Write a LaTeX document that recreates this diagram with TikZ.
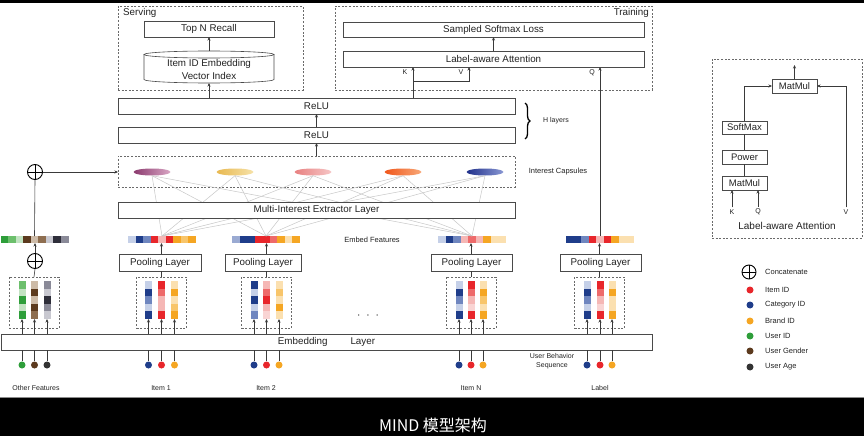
\documentclass[tikz,border=0pt]{standalone}
\usepackage{fontspec}
\setmainfont{Liberation Sans}
\setsansfont{Liberation Sans}
\newfontfamily\cjkfont{Noto Sans CJK SC}
\usetikzlibrary{shapes.geometric,arrows.meta,decorations.pathreplacing,calc}
\newcommand{\myfs}[1]{\fontsize{#1}{#1}\selectfont}
\definecolor{lc}{HTML}{4A4A4A}
\definecolor{ac}{HTML}{3A3A3A}
\definecolor{dc}{HTML}{6A6A6A}
\definecolor{txt}{HTML}{222222}
\definecolor{fanc}{HTML}{C8C8C8}
\definecolor{navy}{HTML}{1F3D8A}
\definecolor{midblue}{HTML}{6F86BF}
\definecolor{lightblue}{HTML}{C5D0E8}
\definecolor{ired}{HTML}{E8262B}
\definecolor{midred}{HTML}{EE6A6A}
\definecolor{pink}{HTML}{F5B7B5}
\definecolor{iorange}{HTML}{F5A623}
\definecolor{midorange}{HTML}{F8C56A}
\definecolor{lightorange}{HTML}{FBE0B0}
\definecolor{igreen}{HTML}{2E9E3A}
\definecolor{midgreen}{HTML}{6CBF6C}
\definecolor{lightgreen}{HTML}{C2E3C2}
\definecolor{ibrown}{HTML}{5C3A1E}
\definecolor{midbrown}{HTML}{8E6E50}
\definecolor{tan}{HTML}{CDBBA8}
\definecolor{dark}{HTML}{2E2E3A}
\definecolor{igray}{HTML}{8A8A98}
\definecolor{lightgray}{HTML}{C8C8D0}
\definecolor{darkdot}{HTML}{333333}
\definecolor{cap1a}{HTML}{8B3A6E}\definecolor{cap1b}{HTML}{D9A6C4}
\definecolor{cap2a}{HTML}{E8B850}\definecolor{cap2b}{HTML}{F6E2A8}
\definecolor{cap3a}{HTML}{E88080}\definecolor{cap3b}{HTML}{F6C6C6}
\definecolor{cap4a}{HTML}{F0561A}\definecolor{cap4b}{HTML}{F8A878}
\definecolor{cap5a}{HTML}{1F2F8A}\definecolor{cap5b}{HTML}{8A98D4}
\tikzset{
  box/.style={draw=lc, line width=0.6pt, fill=white, inner sep=0pt, outer sep=0pt, font=\myfs{9.8}, text=txt},
  dbox/.style={draw=dc, dash pattern=on 2pt off 1.6pt, line width=0.6pt, inner sep=0pt, outer sep=0pt},
  arr/.style={draw=ac, line width=0.6pt, -{Stealth[length=3.5pt,width=3pt]}},
  ln/.style={draw=ac, line width=0.6pt},
  fan/.style={draw=fanc, line width=0.5pt},
  lbl/.style={font=\myfs{7.5}, text=txt, inner sep=0pt},
  dot/.style={circle, minimum size=7pt, inner sep=0pt, draw=none},
  capsule/.style={ellipse, minimum width=37pt, minimum height=7pt, inner sep=0pt, draw=none},
  cplus/.style={circle, draw=black, line width=0.9pt, minimum size=15pt, inner sep=0pt,
    path picture={\draw[line width=0.9pt] (path picture bounding box.north) -- (path picture bounding box.south)
      (path picture bounding box.west) -- (path picture bounding box.east);}},
}
\newcommand{\mkbar}[3]{%
  \node[inner sep=0pt, outer sep=0pt, minimum width=68pt, minimum height=7pt] (#1) at (#2,239.5) {};
  \foreach \c [count=\i from 0] in {#3}
    \fill[\c] ($(#1.north west)+(\i*7.5556,0)$) rectangle +(7.5556,7);
}
\newcommand{\mkcolumn}[4]{%
  \node[inner sep=0pt, outer sep=0pt, minimum width=7pt, minimum height=38pt] (#1) at (#2,300) {};
  \foreach \c [count=\i from 0] in {#3}
    \fill[\c] ($(#1.north west)+(0,\i*7.6)$) rectangle +(7,7.6);
  \draw[arr] (#1.south |- emb.north) -- (#1.south);
  \node[dot, fill=#4] (#1d) at (#2,365) {};
  \draw[ln] (#1d) -- (#1d |- emb.south);
}
\begin{document}
\begin{tikzpicture}[x=1pt,y=-1pt]
\useasboundingbox (0,0) rectangle (864,436);
\fill[white] (0,0) rectangle (864,436);
\fill[black] (0,0) rectangle (864,3);
\fill[black] (0,397) rectangle (864,436);
\draw[black!45, line width=0.6pt] (0,397.3) -- (864,397.3);
\node[font=\cjkfont\myfs{16}, text=white, inner sep=0pt] (caption) at (433,425) {MIND 模型架构};

% ---------------- Serving ----------------
\node[dbox, minimum width=185pt, minimum height=84pt] (serve) at (210.5,48) {};
\node[lbl, font=\myfs{9.8}, anchor=west] (servel) at (123,13) {Serving};
\node[box, minimum width=130pt, minimum height=16pt] (topn) at (209,29) {Top N Recall};
\fill[white] (144,54.5) -- (144,79.5) arc[start angle=180, end angle=360, x radius=65pt, y radius=3.5pt] -- (274,54.5) -- cycle;
\draw[lc, line width=0.6pt] (144,54.5) -- (144,79.5) arc[start angle=180, end angle=360, x radius=65pt, y radius=3.5pt] -- (274,54.5);
\draw[lc, line width=0.6pt, fill=white] (209,54.5) ellipse[x radius=65pt, y radius=3.5pt];
\node[inner sep=0pt, outer sep=0pt, minimum width=130pt, minimum height=32pt] (cyl) at (209,67) {};
\node[font=\myfs{9.8}, text=txt, align=center, inner sep=0pt] (cyltext) at (209,69.5) {Item ID Embedding\\[3pt]Vector Index};
\draw[arr] (cyl.north) -- (topn.south);

% ---------------- Training ----------------
\node[dbox, minimum width=317pt, minimum height=84pt] (train) at (493.5,48) {};
\node[lbl, font=\myfs{9.8}, anchor=east] (trainl) at (649,13) {Training};
\node[box, minimum width=301pt, minimum height=15pt] (ssl) at (493.5,29.5) {Sampled Softmax Loss};
\node[box, minimum width=301pt, minimum height=16pt] (laa) at (493.5,59) {Label-aware Attention};
\draw[arr] (laa.north) -- (ssl.south);
\node[lbl, font=\myfs{7}] (kl) at (405,72.5) {K};
\node[lbl, font=\myfs{7}] (vl) at (461,72.5) {V};
\node[lbl, font=\myfs{7}] (ql) at (592,72.5) {Q};

% ---------------- ReLU stack ----------------
\node[box, minimum width=397pt, minimum height=16pt] (relu1) at (316.5,106) {ReLU};
\node[box, minimum width=397pt, minimum height=16pt] (relu2) at (316.5,135) {ReLU};
\draw[arr] (relu2.north) -- (relu1.south);
\draw[arr] (cyl.south |- relu1.north) -- (cyl.south);
\coordinate (kbase) at (413,98);
\coordinate (kv) at (413,81);
\coordinate (vtop) at (469,67);
\draw[arr] (kbase) -- (kbase |- laa.south);
\draw[arr] (kv) -| (vtop);
\coordinate (bracetop) at (525,103);
\coordinate (bracebot) at (525,139);
\draw[decorate, decoration={brace, amplitude=5pt}, line width=1.3pt] (bracetop) -- (bracebot);
\node[lbl, font=\myfs{7}] (hl) at (556,121) {H layers};

% ---------------- Capsules ----------------
\node[dbox, minimum width=397pt, minimum height=31pt] (capbox) at (316.5,171.5) {};
\draw[arr] (capbox.north) -- (relu2.south);
\node[lbl] (icl) at (558,172) {Interest Capsules};
\node[capsule, left color=cap1a, right color=cap1b] (c1) at (152,172) {};
\node[capsule, left color=cap2a, right color=cap2b] (c2) at (235,172) {};
\node[capsule, left color=cap3a, right color=cap3b] (c3) at (313,172) {};
\node[capsule, left color=cap4a, right color=cap4b] (c4) at (403,172) {};
\node[capsule, left color=cap5a, right color=cap5b] (c5) at (485,172) {};

% ---------------- Embed feature bars ----------------
\mkbar{bar0}{34.5}{igreen,midgreen,lightgreen,ibrown,tan,midbrown,lightgray,dark,igray}
\mkbar{bar1}{162}{lightblue,navy,midblue,ired,pink,ired,iorange,midorange,iorange}
\mkbar{bar2}{266}{midblue!70,navy,navy,ired,ired,midred,iorange,lightorange,iorange}
\mkbar{bar3}{472}{lightblue,navy,midblue,pink,midred,pink,iorange,lightorange,lightorange}
\mkbar{bar4}{600}{navy,navy,midblue,ired,pink,ired,iorange,lightorange,lightorange}
\node[lbl] (efl) at (372,240) {Embed Features};

\foreach \b in {bar1,bar2,bar3}
  \foreach \c in {c1,c2,c3,c4,c5}
    \draw[fan] (\b.north) -- (\c.south);

\node[box, minimum width=397pt, minimum height=16pt] (mie) at (316.5,210) {Multi-Interest Extractor Layer};

% Q connector
\draw[arr] (bar4.north) -- (bar4.north |- laa.south);

% ---------------- Other features concat ----------------
\node[cplus] (cp1) at (35,172) {};
\draw[ln] (bar0.north) -- (cp1.south);
\draw[arr] (cp1.east) -- (cp1.east -| capbox.west);
\node[cplus] (cp2) at (35,261) {};
\draw[arr] (cp2.north) -- (cp2.north |- bar0.south);

% ---------------- Pooling ----------------
\node[box, minimum width=82pt, minimum height=17pt] (pool1) at (160,262.5) {Pooling Layer};
\node[box, minimum width=76pt, minimum height=17pt] (pool2) at (263,262.5) {Pooling Layer};
\node[box, minimum width=81pt, minimum height=17pt] (pool3) at (471.5,262.5) {Pooling Layer};
\node[box, minimum width=81pt, minimum height=17pt] (pool4) at (600.5,262.5) {Pooling Layer};

% ---------------- Groups ----------------
\node[dbox, minimum width=50pt, minimum height=51pt] (g0) at (34,302.5) {};
\node[dbox, minimum width=50pt, minimum height=51pt] (g1) at (161.5,302.5) {};
\node[dbox, minimum width=50pt, minimum height=51pt] (g2) at (266.5,302.5) {};
\node[dbox, minimum width=50pt, minimum height=51pt] (g3) at (471,302.5) {};
\node[dbox, minimum width=50pt, minimum height=51pt] (g4) at (599.5,302.5) {};
\draw[ln] (g0.north) -- (cp2.south);
\foreach \g/\p/\b in {g1/pool1/bar1,g2/pool2/bar2,g3/pool3/bar3,g4/pool4/bar4}{
  \draw[ln] (\g.north) -- (\g.north |- \p.south);
  \draw[arr] (\g.north |- \p.north) -- (\g.north |- \b.south);
}

% ---------------- Embedding layer ----------------
\node[box, minimum width=651pt, minimum height=16pt] (emb) at (326.5,342) {Embedding\hspace{23pt}Layer};

\mkcolumn{g0a}{22}{midgreen,lightgreen,igreen,lightgreen,igreen}{igreen}
\mkcolumn{g0b}{34.5}{tan,ibrown,tan,ibrown,midbrown}{ibrown}
\mkcolumn{g0c}{47}{igray,lightgray,dark,igray,lightgray}{darkdot}
\mkcolumn{g1a}{148.5}{lightblue,navy,midblue,lightblue,navy}{navy}
\mkcolumn{g1b}{161.5}{ired,midred,pink,pink,ired}{ired}
\mkcolumn{g1c}{174.5}{lightorange,iorange,lightorange,midorange,iorange}{iorange}
\mkcolumn{g2a}{254}{navy,lightblue,navy,lightblue,midblue}{navy}
\mkcolumn{g2b}{266.5}{pink,midred,ired,pink,pink!60}{ired}
\mkcolumn{g2c}{279}{lightorange,midorange,lightorange,iorange,lightorange}{iorange}
\mkcolumn{g3a}{459}{lightblue,navy,midblue,lightblue,navy}{navy}
\mkcolumn{g3b}{471}{ired,midred,pink,pink!60,ired}{ired}
\mkcolumn{g3c}{483}{lightorange,iorange,midorange,lightorange,iorange}{iorange}
\mkcolumn{g4a}{587}{lightblue,navy,midblue,lightblue,navy}{navy}
\mkcolumn{g4b}{600}{ired,midred,pink,pink!60,ired}{ired}
\mkcolumn{g4c}{612}{lightorange,iorange,lightorange,lightorange,iorange}{iorange}

\node[font=\myfs{12}, text=txt, inner sep=0pt] (dots) at (368,316) {$\cdot\;\cdot\;\cdot$};
\node[lbl, align=center, font=\myfs{7}] (ubs) at (552,361.5) {User Behavior\\[2pt]Sequence};
\node[lbl, font=\myfs{7}] (lof) at (36,388) {Other Features};
\node[lbl, font=\myfs{7}] (li1) at (161,388) {Item 1};
\node[lbl, font=\myfs{7}] (li2) at (266,388) {Item 2};
\node[lbl, font=\myfs{7}] (lin) at (471,388) {Item N};
\node[lbl, font=\myfs{7}] (llb) at (600,388) {Label};

% ---------------- Label-aware attention panel ----------------
\node[dbox, minimum width=150pt, minimum height=179pt] (lap) at (787,148.5) {};
\node[box, minimum width=45pt, minimum height=14pt, font=\myfs{9.5}] (mm1) at (794.5,86) {MatMul};
\node[box, minimum width=45pt, minimum height=13pt, font=\myfs{9.5}] (smx) at (744.5,127.5) {SoftMax};
\node[box, minimum width=45pt, minimum height=14pt, font=\myfs{9.5}] (pow) at (744.5,157) {Power};
\node[box, minimum width=45pt, minimum height=14pt, font=\myfs{9.5}] (mm2) at (744.5,183) {MatMul};
\coordinate (mmout) at (794.5,65);
\draw[arr] (mm1.north) -- (mmout);
\draw[ln] (mm2.north) -- (pow.south);
\draw[ln] (pow.north) -- (smx.south);
\draw[arr] (smx.north) |- (mm1.west);
\node[lbl, font=\myfs{7}] (kp) at (732,212) {K};
\node[lbl, font=\myfs{7}] (qp) at (758,212) {Q};
\node[lbl, font=\myfs{7}] (vp) at (846,212) {V};
\draw[arr] ([yshift=2pt]kp.north) -- (kp.north |- mm2.south);
\draw[arr] ([yshift=2pt]qp.north) -- (qp.north |- mm2.south);
\draw[arr] ([yshift=2pt]vp.north) |- (mm1.east);
\node[lbl, font=\myfs{10}] (lapt) at (787,226) {Label-aware Attention};

% ---------------- Legend ----------------
\node[cplus, minimum size=14pt] (lcp) at (749,272) {};
\node[lbl, anchor=west] (lct) at (765,272) {Concatenate};
\foreach \y/\col/\t [count=\k] in {290/ired/Item ID,305/navy/Category ID,321/iorange/Brand ID,336/igreen/User ID,351/ibrown/User Gender,367/darkdot/User Age}{
  \node[dot, fill=\col] (ld\k) at (750,\y) {};
  \node[lbl, anchor=west] (lt\k) at (765,\y) {\t};
}
\end{tikzpicture}
\end{document}
